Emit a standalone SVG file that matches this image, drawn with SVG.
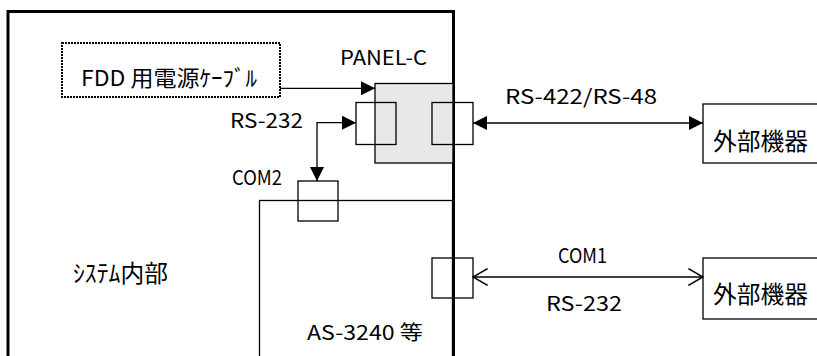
<svg xmlns="http://www.w3.org/2000/svg" width="817" height="356" viewBox="0 0 817 356">
<defs>
<style>
.t{font-family:"Noto Sans CJK JP","Noto Sans",sans-serif;fill:#000}
.lat{font-size:20px}
.cjk{font-size:24px}
.box{fill:none;stroke:#000;stroke-width:1.3}
.wire{fill:none;stroke:#000;stroke-width:1.3}
</style>
<marker id="fa" markerUnits="userSpaceOnUse" markerWidth="14" markerHeight="14" viewBox="0 0 12 12" refX="12" refY="6" orient="auto-start-reverse">
<path d="M0,0 L12,6 L0,12 Z" fill="#000"/>
</marker>
<marker id="oa" markerUnits="userSpaceOnUse" markerWidth="16" markerHeight="18" viewBox="0 0 14 16" refX="13" refY="8" orient="auto-start-reverse">
<path d="M0,0.5 L13,8 L0,15.5" fill="none" stroke="#000" stroke-width="1.3"/>
</marker>
</defs>
<rect width="817" height="356" fill="#fff"/>

<g id="system">
<rect x="8" y="11.5" width="445.5" height="360" fill="none" stroke="#000" stroke-width="3"/>
<text class="t cjk" x="73" y="282" textLength="95" lengthAdjust="spacingAndGlyphs">ｼｽﾃﾑ内部</text>
</g>

<g id="fdd-cable">
<rect x="62" y="43" width="218" height="54" fill="none" stroke="#000" stroke-width="2" stroke-dasharray="2,1"/>
<text class="t" style="font-size:22px" x="81" y="86" textLength="176" lengthAdjust="spacingAndGlyphs">FDD 用電源ｹｰﾌﾞﾙ</text>
</g>

<g id="panel-c">
<rect x="375" y="83.5" width="78" height="79.5" fill="#e8e8e8" stroke="#000" stroke-width="1.3"/>
<text class="t lat" x="340" y="65" textLength="87" lengthAdjust="spacingAndGlyphs">PANEL-C</text>
<rect class="box" x="356" y="102.5" width="40" height="42"/>
<rect class="box" x="432" y="102.5" width="41" height="42"/>
</g>

<g id="as3240">
<rect x="259.5" y="200.5" width="193" height="170" fill="none" stroke="#000" stroke-width="1.3"/>
<text class="t lat" x="307" y="340" textLength="116" lengthAdjust="spacingAndGlyphs">AS-3240 等</text>
<rect class="box" x="298" y="181" width="40" height="40"/>
<rect class="box" x="432" y="258" width="41" height="40"/>
</g>

<g id="ext1">
<rect class="box" x="703" y="104" width="120" height="59"/>
<text class="t cjk" x="713" y="150" textLength="95" lengthAdjust="spacingAndGlyphs">外部機器</text>
</g>

<g id="ext2">
<rect class="box" x="703" y="258" width="120" height="61"/>
<text class="t cjk" x="713" y="303" textLength="95" lengthAdjust="spacingAndGlyphs">外部機器</text>
</g>

<g id="connectors">
<path class="wire" d="M280,88.3 H375" marker-end="url(#fa)"/>
<path class="wire" d="M356,122.7 H317 V181" marker-start="url(#fa)" marker-end="url(#fa)"/>
<path class="wire" d="M473,123 H703" marker-start="url(#fa)" marker-end="url(#fa)"/>
<path class="wire" d="M473,277 H703" marker-start="url(#oa)" marker-end="url(#oa)"/>
</g>

<g id="labels">
<text class="t lat" x="230" y="128" textLength="73" lengthAdjust="spacingAndGlyphs">RS-232</text>
<text class="t lat" x="232" y="185" textLength="50" lengthAdjust="spacingAndGlyphs">COM2</text>
<text class="t lat" x="505" y="104" textLength="152" lengthAdjust="spacingAndGlyphs">RS-422/RS-48</text>
<text class="t lat" x="558" y="263" textLength="49" lengthAdjust="spacingAndGlyphs">COM1</text>
<text class="t lat" x="546" y="311" textLength="76" lengthAdjust="spacingAndGlyphs">RS-232</text>
</g>
</svg>
